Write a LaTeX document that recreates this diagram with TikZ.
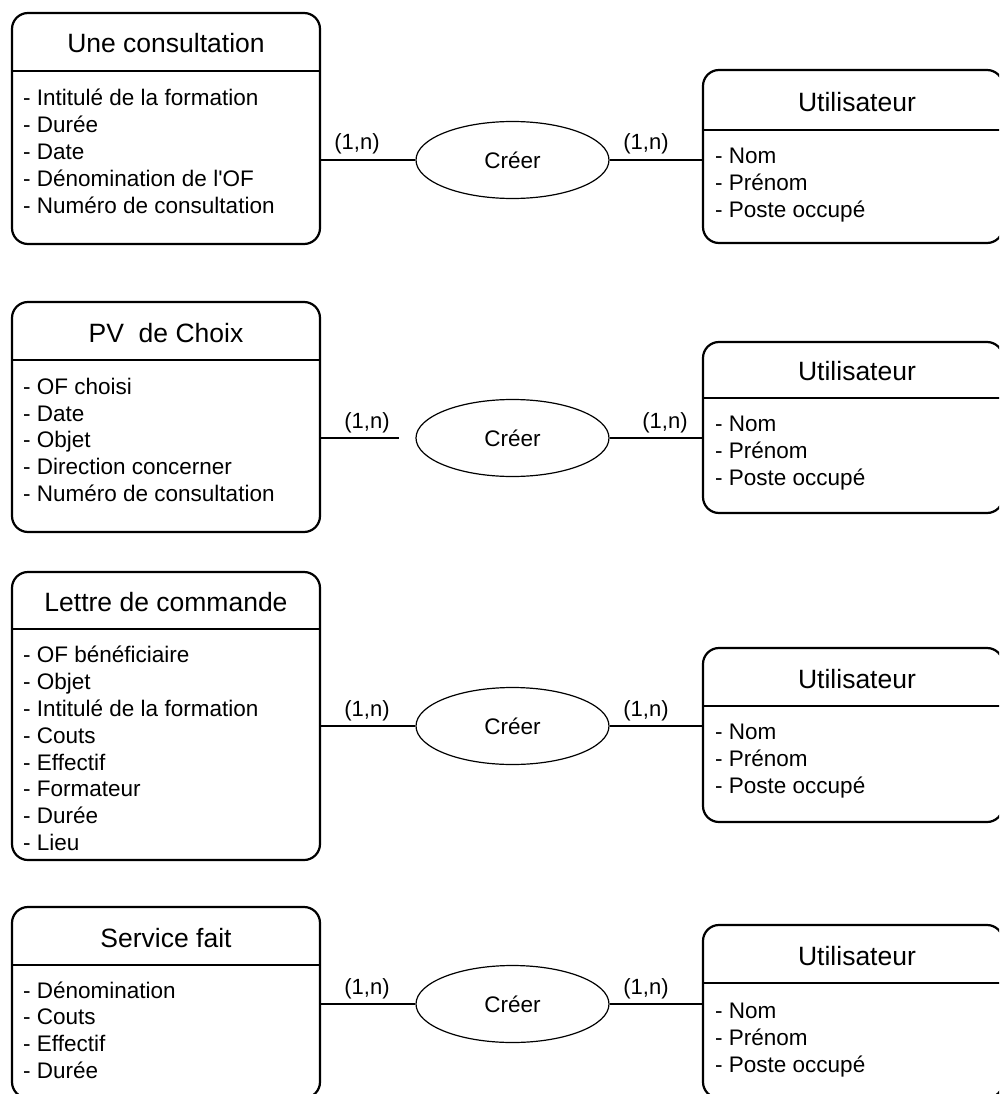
\documentclass[tikz,border=0pt]{standalone}
\usepackage{fontspec}
\setmainfont{Liberation Sans}[Ligatures=TeXOff]
\usetikzlibrary{shapes.geometric}

\tikzset{
  entity/.style={draw, line width=2.2pt, rounded corners=16pt, inner sep=0pt, outer sep=0pt},
  sepline/.style={line width=2.2pt},
  etitle/.style={font=\fontsize{26.5}{30}\selectfont, anchor=base, inner sep=0pt},
  % multi-line attribute lists are placed by the baseline of their last line
  attrs/.style={font=\fontsize{22.5}{26.8}\selectfont, anchor=base west, align=left, inner sep=0pt},
  relation/.style={draw, ellipse, line width=1.2pt, minimum width=193pt, minimum height=77pt, inner sep=0pt,
                   font=\fontsize{22.5}{26}\selectfont},
  link/.style={line width=1.2pt},
  card/.style={font=\fontsize{22}{26}\selectfont, anchor=base, inner sep=0pt}
}

\begin{document}
\begin{tikzpicture}[x=1pt, y=-1pt]
\useasboundingbox (0,0) rectangle (999,1094);
\clip (0,0) rectangle (999,1094);

% ---------- left entities ----------
\node[entity, minimum width=308pt, minimum height=231pt] (e1) at (166,128.5) {};
\node[entity, minimum width=308pt, minimum height=230pt] (e2) at (166,417) {};
\node[entity, minimum width=308pt, minimum height=288pt] (e3) at (166,716) {};
\node[entity, minimum width=308pt, minimum height=191pt] (e4) at (166,1002.5) {};

\draw[sepline] (e1.west |- 0,71)  -- (e1.east |- 0,71);
\draw[sepline] (e2.west |- 0,360) -- (e2.east |- 0,360);
\draw[sepline] (e3.west |- 0,629) -- (e3.east |- 0,629);
\draw[sepline] (e4.west |- 0,965) -- (e4.east |- 0,965);

\node[etitle] (t1) at (166,53)  {Une consultation};
\node[etitle] (t2) at (166,342) {PV\ \ de Choix};
\node[etitle] (t3) at (166,611) {Lettre de commande};
\node[etitle] (t4) at (166,947) {Service fait};

\node[attrs] (a1) at (23,213.2) {- Intitulé de la formation\\- Durée\\- Date\\- Dénomination de l'OF\\- Numéro de consultation};
\node[attrs] (a2) at (23,501.5) {- OF choisi\\- Date\\- Objet\\- Direction concerner\\- Numéro de consultation};
\node[attrs] (a3) at (23,850.5) {- OF bénéficiaire\\- Objet\\- Intitulé de la formation\\- Couts\\- Effectif\\- Formateur\\- Durée\\- Lieu};
\node[attrs] (a4) at (23,1078.5) {- Dénomination\\- Couts\\- Effectif\\- Durée};

% ---------- right entities ----------
\node[entity, minimum width=300pt, minimum height=173pt] (u1) at (853,156.5) {};
\node[entity, minimum width=300pt, minimum height=171pt] (u2) at (853,427.5) {};
\node[entity, minimum width=300pt, minimum height=174pt] (u3) at (853,735) {};
\node[entity, minimum width=300pt, minimum height=173pt] (u4) at (853,1011.5) {};

\draw[sepline] (u1.west |- 0,130) -- (u1.east |- 0,130);
\draw[sepline] (u2.west |- 0,398) -- (u2.east |- 0,398);
\draw[sepline] (u3.west |- 0,706) -- (u3.east |- 0,706);
\draw[sepline] (u4.west |- 0,983) -- (u4.east |- 0,983);

\node[etitle] (ut1) at (857,112) {Utilisateur};
\node[etitle] (ut2) at (857,380) {Utilisateur};
\node[etitle] (ut3) at (857,688) {Utilisateur};
\node[etitle] (ut4) at (857,965) {Utilisateur};

\node[attrs] (ua1) at (715,217)  {- Nom\\- Prénom\\- Poste occupé};
\node[attrs] (ua2) at (715,485)  {- Nom\\- Prénom\\- Poste occupé};
\node[attrs] (ua3) at (715,793)  {- Nom\\- Prénom\\- Poste occupé};
\node[attrs] (ua4) at (715,1072) {- Nom\\- Prénom\\- Poste occupé};

% ---------- relations ----------
\node[relation] (r1) at (512.5,160)  {Créer};
\node[relation] (r2) at (512.5,438)  {Créer};
\node[relation] (r3) at (512.5,726)  {Créer};
\node[relation] (r4) at (512.5,1004) {Créer};

\coordinate (g2) at (399,438);

\draw[link] (r1.west -| e1.east) -- (r1.west);
\draw[link] (r1.east) -- (r1.east -| u1.west);
\draw[link] (g2 -| e2.east) -- (g2);
\draw[link] (r2.east) -- (r2.east -| u2.west);
\draw[link] (r3.west -| e3.east) -- (r3.west);
\draw[link] (r3.east) -- (r3.east -| u3.west);
\draw[link] (r4.west -| e4.east) -- (r4.west);
\draw[link] (r4.east) -- (r4.east -| u4.west);

% ---------- cardinalities ----------
\node[card] (c1l) at (357,150) {(1,n)};
\node[card] (c1r) at (646,150) {(1,n)};
\node[card] (c2l) at (367,428) {(1,n)};
\node[card] (c2r) at (665,428) {(1,n)};
\node[card] (c3l) at (367,716) {(1,n)};
\node[card] (c3r) at (646,716) {(1,n)};
\node[card] (c4l) at (367,994) {(1,n)};
\node[card] (c4r) at (646,994) {(1,n)};
\end{tikzpicture}
\end{document}
